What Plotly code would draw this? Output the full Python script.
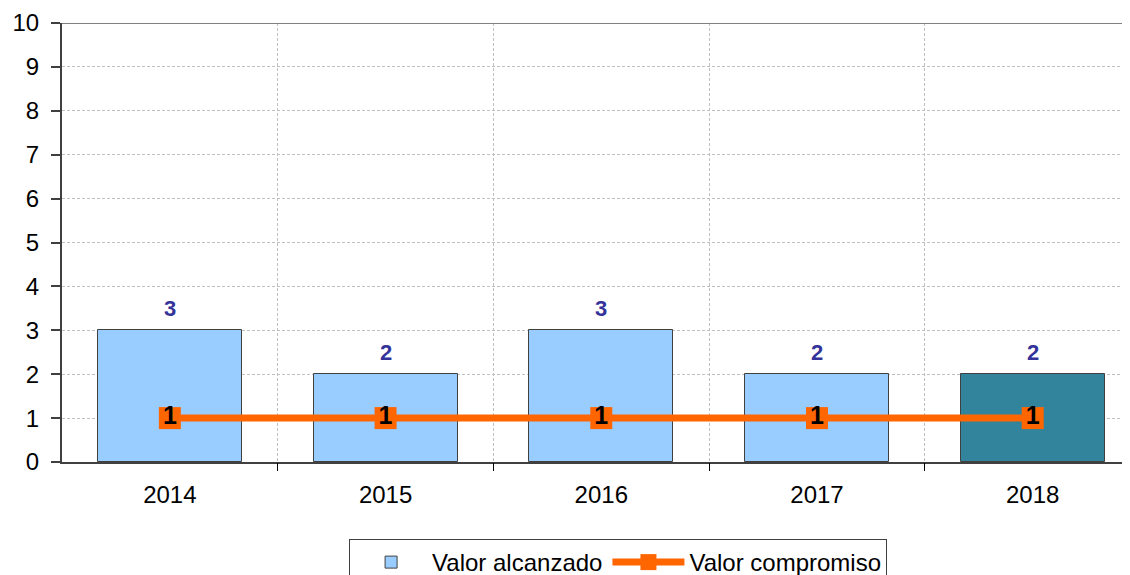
import plotly.graph_objects as go

years = ["2014", "2015", "2016", "2017", "2018"]
alcanzado = [3, 2, 3, 2, 2]
compromiso = [1, 1, 1, 1, 1]
bar_colors = ["#99CCFF", "#99CCFF", "#99CCFF", "#99CCFF", "#31849B"]
y_ticks = list(range(0, 11))

xs = list(range(len(years)))
font = "Liberation Sans, Arial, sans-serif"

fig = go.Figure()
fig.add_trace(go.Bar(
    x=xs, y=alcanzado, name="Valor alcanzado",
    width=0.667,
    marker=dict(color=bar_colors, line=dict(color="#404040", width=1)),
    xaxis="x", yaxis="y",
))
fig.add_trace(go.Scatter(
    x=xs, y=compromiso, name="Valor compromiso",
    mode="lines+markers+text",
    line=dict(color="#FF6600", width=7),
    marker=dict(symbol="square", size=22, color="#FF6600"),
    text=[str(v) for v in compromiso], textposition="middle center",
    textfont=dict(family=font, size=25, color="#000000", weight="bold"),
    xaxis="x", yaxis="y",
))
fig.add_trace(go.Scatter(x=[xs[0]], y=[0], mode="markers", marker=dict(opacity=0),
                         showlegend=False, hoverinfo="skip", xaxis="x2", yaxis="y"))

for i, v in enumerate(alcanzado):
    fig.add_annotation(x=i, y=v, text=str(v), showarrow=False, yshift=22,
                       font=dict(family=font, size=22, color="#333399", weight="bold"),
                       xref="x", yref="y")

xr = [-0.5, 4.451]
grid = "#C0C0C0"
fig.update_layout(
    width=1122, height=567,
    margin=dict(l=54, r=0, t=15, b=113),
    plot_bgcolor="white", paper_bgcolor="white",
    font=dict(family=font, size=24, color="#000000"),
    bargap=0,
    xaxis=dict(range=xr, tickvals=xs, ticktext=years, showgrid=False, ticks="",
               showline=True, linecolor="#404040", linewidth=2, zeroline=False,
               tickfont=dict(size=24), ticklabelstandoff=10, automargin=False),
    xaxis2=dict(range=xr, overlaying="x", tickvals=[0.5, 1.5, 2.5, 3.5],
                showticklabels=False, showgrid=True, gridcolor=grid,
                griddash="3px,2px", gridwidth=1, ticks="outside", ticklen=8,
                tickcolor="#000000", tickwidth=1, zeroline=False, side="bottom",
                automargin=False),
    yaxis=dict(range=[0, 10], tickvals=y_ticks, showgrid=True, gridcolor=grid,
               griddash="3px,2px", gridwidth=1, ticks="outside", ticklen=9,
               tickcolor="#404040", tickwidth=2, showline=True, linecolor="#404040",
               linewidth=2, zeroline=False, tickfont=dict(size=24),
               ticklabelstandoff=7, automargin=False),
    legend=dict(orientation="h", xref="container", yref="container",
                x=0.304, xanchor="left", y=0.0635, yanchor="top",
                bordercolor="#404040", borderwidth=1, font=dict(size=24),
                traceorder="normal", itemwidth=72),
    showlegend=True,
)
fig.add_shape(type="line", xref="paper", yref="y", x0=0, x1=1, y0=10, y1=10,
              line=dict(color="#808080", width=2))

fig.write_html("out.html")
